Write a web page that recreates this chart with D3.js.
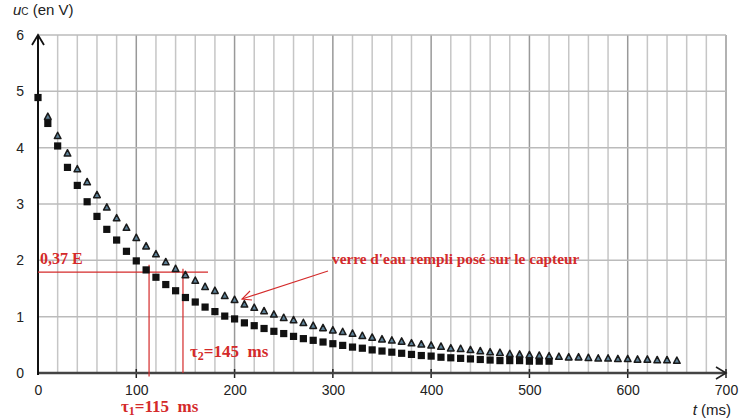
<!DOCTYPE html>
<html><head><meta charset="utf-8">
<script src="https://cdn.jsdelivr.net/npm/d3@7"></script>
<style>
body{margin:0;background:#fff;}
svg{display:block;}
</style></head>
<body>
<svg id="c" width="743" height="419"></svg>
<script>
// ---- data ----
const tSquares = [0,10,20,30,40,50,60,70,80,90,100,110,120,130,140,150,160,170,180,190,200,210,220,230,240,250,260,270,280,290,300,310,320,330,340,350,360,370,380,390,400,410,420,430,440,450,460,470,480,490,500,510,520];
const uSquares = [4.89,4.43,4.03,3.65,3.33,3.04,2.78,2.55,2.36,2.16,1.99,1.83,1.70,1.57,1.46,1.34,1.26,1.17,1.09,1.01,0.96,0.89,0.84,0.79,0.74,0.70,0.65,0.61,0.58,0.55,0.52,0.49,0.46,0.44,0.41,0.39,0.37,0.35,0.33,0.31,0.30,0.28,0.27,0.26,0.25,0.24,0.23,0.22,0.22,0.22,0.21,0.21,0.21];
const tTriangles = [10,20,30,40,50,60,70,80,90,100,110,120,130,140,150,160,170,180,190,200,210,220,230,240,250,260,270,280,290,300,310,320,330,340,350,360,370,380,390,400,410,420,430,440,450,460,470,480,490,500,510,520,530,540,550,560,570,580,590,600,610,620,630,640,650];
const uTriangles = [4.55,4.21,3.90,3.62,3.39,3.16,2.94,2.75,2.58,2.40,2.25,2.11,1.97,1.85,1.74,1.64,1.53,1.46,1.37,1.30,1.22,1.16,1.10,1.04,0.98,0.94,0.89,0.84,0.80,0.76,0.73,0.70,0.66,0.63,0.60,0.58,0.56,0.53,0.51,0.49,0.47,0.44,0.43,0.41,0.39,0.37,0.36,0.34,0.33,0.32,0.31,0.30,0.29,0.28,0.28,0.27,0.26,0.26,0.25,0.25,0.24,0.24,0.23,0.23,0.22];
const xTicks = [0,100,200,300,400,500,600,700];
const yTicks = [0,1,2,3,4,5,6];
const xMinorGrid = [20,40,60,80,120,140,160,180,220,240,260,280,320,340,360,380,420,440,460,480,520,540,560,580,620,640,660,680];
const level037E = 1.79;       // 0,37 E
const tau1 = 113, tau2 = 147.5; // read positions of vertical lines
const labels = {
  yTitle: ["u","C"," (en V)"],
  xTitle: ["t"," (ms)"],
  e037: "0,37 E",
  tau1: ["τ","1","=115\u00a0\u00a0ms"],
  tau2: ["τ","2","=145\u00a0\u00a0ms"],
  note: "verre d'eau rempli posé sur le capteur"
};

// ---- scales ----
const svg = d3.select("#c");
const x = d3.scaleLinear().domain([0,700]).range([38,726]);
const y = d3.scaleLinear().domain([0,6]).range([373,35]);
const red = "#d42a2a";

// grid
const g = svg.append("g");
g.selectAll(".vmin").data(xMinorGrid).enter().append("line")
  .attr("x1",d=>x(d)).attr("x2",d=>x(d)).attr("y1",y(0)).attr("y2",y(6))
  .attr("stroke","#c6c6c6").attr("stroke-width",1.5);
g.selectAll(".vmaj").data(xTicks.filter(d=>d>0)).enter().append("line")
  .attr("x1",d=>x(d)).attr("x2",d=>x(d)).attr("y1",y(0)).attr("y2",y(6))
  .attr("stroke","#999").attr("stroke-width",1.5);
g.selectAll(".h").data(yTicks.filter(d=>d>0)).enter().append("line")
  .attr("x1",x(0)).attr("x2",x(700)).attr("y1",d=>y(d)).attr("y2",d=>y(d))
  .attr("stroke","#bbb").attr("stroke-width",1.5);

// axes
const fontSans = "Liberation Sans, Arial, sans-serif";
const xAxis = d3.axisBottom(x).tickValues(xTicks).tickFormat(d3.format("d")).tickSize(0).tickPadding(12);
const ax = svg.append("g").attr("transform",`translate(0,${y(0)})`).call(xAxis);
ax.select(".domain").remove();
ax.selectAll("text").attr("font-family",fontSans).attr("font-size",14).attr("fill","#222");
const yAxis = d3.axisLeft(y).tickValues(yTicks).tickFormat(d3.format("d")).tickSize(0).tickPadding(14);
const ay = svg.append("g").attr("transform",`translate(${x(0)},0)`).call(yAxis);
ay.select(".domain").remove();
ay.selectAll("text").attr("font-family",fontSans).attr("font-size",14).attr("fill","#222");

// x tick marks
svg.selectAll(".xt").data(xTicks.filter(d=>d>0)).enter().append("line")
  .attr("x1",d=>x(d)).attr("x2",d=>x(d)).attr("y1",y(0)-4).attr("y2",y(0)+5)
  .attr("stroke","#222").attr("stroke-width",1.5);
// x axis line + arrow
svg.append("line").attr("x1",x(0)).attr("x2",x(700)).attr("y1",y(0)).attr("y2",y(0))
  .attr("stroke","#444").attr("stroke-width",2.4);
svg.append("path").attr("d",`M${x(700)-10},${y(0)-6}L${x(700)},${y(0)}L${x(700)-10},${y(0)+6}`)
  .attr("fill","none").attr("stroke","#222").attr("stroke-width",1.6);
// y axis line + arrow
svg.append("line").attr("x1",x(0)).attr("x2",x(0)).attr("y1",y(0)+2).attr("y2",y(6))
  .attr("stroke","#111").attr("stroke-width",2);
svg.append("path").attr("d",`M${x(0)-6},${y(6)+10}L${x(0)},${y(6)}L${x(0)+6},${y(6)+10}`)
  .attr("fill","none").attr("stroke","#111").attr("stroke-width",1.8);

// axis titles
const yt = svg.append("text").attr("x",13).attr("y",15)
  .attr("font-family",fontSans).attr("font-size",15).attr("fill","#222");
yt.append("tspan").attr("font-style","italic").text(labels.yTitle[0]);
yt.append("tspan").attr("font-size",10).text(labels.yTitle[1]);
yt.append("tspan").text(labels.yTitle[2]);
const xt = svg.append("text").attr("x",731).attr("y",415).attr("text-anchor","end")
  .attr("font-family",fontSans).attr("font-size",15).attr("fill","#222");
xt.append("tspan").attr("font-style","italic").text(labels.xTitle[0]);
xt.append("tspan").text(labels.xTitle[1]);

// red construction lines
svg.append("line").attr("x1",x(0)).attr("x2",x(173)).attr("y1",y(level037E)).attr("y2",y(level037E))
  .attr("stroke",red).attr("stroke-width",1.2);
svg.append("line").attr("x1",x(tau1)).attr("x2",x(tau1)).attr("y1",y(1.92)).attr("y2",y(-0.06))
  .attr("stroke",red).attr("stroke-width",1.2);
svg.append("line").attr("x1",x(tau2)).attr("x2",x(tau2)).attr("y1",y(1.85)).attr("y2",y(0))
  .attr("stroke",red).attr("stroke-width",1.2);

// data: squares
const sq = tSquares.map((t,i)=>({t,u:uSquares[i]}));
svg.selectAll(".sq").data(sq).enter().append("rect")
  .attr("x",d=>x(d.t)-3.6).attr("y",d=>y(d.u)-3.6).attr("width",7.2).attr("height",7.2)
  .attr("fill","#111");
// data: triangles
const tr = tTriangles.map((t,i)=>({t,u:uTriangles[i]}));
svg.selectAll(".tr").data(tr).enter().append("path")
  .attr("d",d=>{const cx=x(d.t), cy=y(d.u); return `M${cx},${cy-3.6}L${cx+3.3},${cy+2.7}L${cx-3.3},${cy+2.7}Z`;})
  .attr("fill","#5e8298").attr("stroke","#1a1a1a").attr("stroke-width",1.5).attr("stroke-linejoin","round");

// annotation texts
const serif = "Liberation Serif, Times New Roman, serif";
svg.append("text").attr("x",40).attr("y",264).attr("font-family",serif).attr("font-weight","bold")
  .attr("font-size",16).attr("fill",red).text(labels.e037);
const t1 = svg.append("text").attr("x",121).attr("y",412).attr("font-family",serif).attr("font-weight","bold")
  .attr("font-size",17).attr("fill",red);
t1.append("tspan").text(labels.tau1[0]);
t1.append("tspan").attr("font-size",12).attr("dy",3).text(labels.tau1[1]);
t1.append("tspan").attr("dy",-3).text(labels.tau1[2]);
const t2 = svg.append("text").attr("x",190).attr("y",357).attr("font-family",serif).attr("font-weight","bold")
  .attr("font-size",17).attr("fill",red);
t2.append("tspan").text(labels.tau2[0]);
t2.append("tspan").attr("font-size",12).attr("dy",3).text(labels.tau2[1]);
t2.append("tspan").attr("dy",-3).text(labels.tau2[2]);
svg.append("text").attr("x",332).attr("y",264).attr("font-family",serif).attr("font-weight","bold")
  .attr("font-size",15.3).attr("fill",red).text(labels.note);

// annotation arrow
svg.append("line").attr("x1",328).attr("y1",271).attr("x2",242).attr("y2",299)
  .attr("stroke",red).attr("stroke-width",1.1);
svg.append("path").attr("d","M250,291L242,299L252,300").attr("fill","none")
  .attr("stroke",red).attr("stroke-width",1.1);
</script>
</body></html>
